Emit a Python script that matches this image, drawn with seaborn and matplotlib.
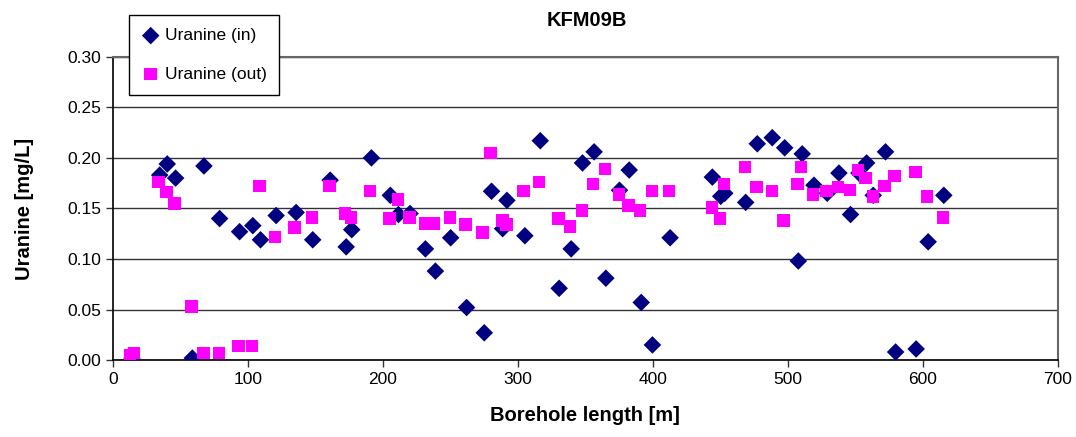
import matplotlib
matplotlib.use("Agg")
import matplotlib.pyplot as plt
import seaborn as sns
import pandas as pd

# Uranine concentration measured along the borehole
length_in = [14.1, 34.6, 40.2, 46.4, 58.8, 67.4, 79.0, 93.8, 103.6, 109.3,
             120.9, 135.7, 148.0, 160.9, 172.8, 176.9, 191.5, 205.5, 211.5, 220.1,
             231.5, 238.9, 250.2, 262.0, 275.1, 280.5, 288.7, 291.9, 305.2, 316.6,
             330.6, 339.5, 347.9, 356.5, 365.2, 375.3, 382.5, 391.4, 399.7, 412.8,
             444.1, 450.3, 453.3, 468.8, 477.4, 488.5, 497.7, 507.8, 510.7, 519.4,
             529.2, 537.9, 546.5, 552.7, 558.4, 563.3, 572.4, 579.9, 595.1, 604.0,
             615.6]
uranine_in = [0.002, 0.183, 0.194, 0.180, 0.002, 0.192, 0.140, 0.127, 0.133, 0.119,
              0.143, 0.146, 0.119, 0.178, 0.112, 0.129, 0.200, 0.163, 0.144, 0.145,
              0.110, 0.088, 0.121, 0.052, 0.027, 0.167, 0.130, 0.158, 0.123, 0.217,
              0.071, 0.110, 0.195, 0.206, 0.081, 0.168, 0.188, 0.057, 0.015, 0.121,
              0.181, 0.162, 0.165, 0.156, 0.214, 0.220, 0.210, 0.098, 0.204, 0.173,
              0.165, 0.185, 0.144, 0.185, 0.195, 0.163, 0.206, 0.008, 0.011, 0.117,
              0.163]

length_out = [12.4, 15.5, 33.8, 39.5, 45.7, 58.3, 67.1, 78.5, 93.0, 102.9,
              108.6, 120.2, 134.5, 147.3, 160.4, 172.0, 176.4, 190.5, 204.8, 211.0,
              219.6, 231.2, 237.4, 249.7, 261.1, 273.9, 279.6, 288.7, 291.6, 304.2,
              315.8, 330.1, 338.8, 347.4, 355.8, 364.7, 375.1, 381.9, 390.6, 399.3,
              412.0, 443.7, 449.6, 452.8, 468.3, 476.9, 488.5, 496.7, 507.1, 510.0,
              518.6, 528.8, 537.4, 546.0, 552.0, 557.6, 563.0, 571.6, 579.1, 594.7,
              603.3, 614.9]
uranine_out = [0.005, 0.007, 0.176, 0.166, 0.155, 0.053, 0.007, 0.007, 0.014, 0.014,
               0.172, 0.122, 0.131, 0.141, 0.172, 0.145, 0.141, 0.167, 0.140, 0.159,
               0.141, 0.135, 0.135, 0.141, 0.134, 0.126, 0.205, 0.138, 0.134, 0.167,
               0.176, 0.140, 0.132, 0.148, 0.174, 0.189, 0.164, 0.153, 0.148, 0.167,
               0.167, 0.151, 0.140, 0.174, 0.191, 0.171, 0.167, 0.138, 0.174, 0.191,
               0.164, 0.167, 0.171, 0.168, 0.188, 0.180, 0.162, 0.172, 0.182, 0.186,
               0.162, 0.141]

df_in = pd.DataFrame({"length": length_in, "uranine": uranine_in})
df_out = pd.DataFrame({"length": length_out, "uranine": uranine_out})

sns.set_style("white")
plt.rcParams["font.family"] = ["Liberation Sans", "DejaVu Sans"]
plt.rcParams["text.color"] = "black"
plt.rcParams["axes.labelcolor"] = "black"
plt.rcParams["xtick.color"] = "black"
plt.rcParams["ytick.color"] = "black"

fig = plt.figure(figsize=(10.76, 4.37), dpi=100)
ax = fig.add_axes([0.105, 0.176, 0.878, 0.694])

sns.scatterplot(x="length", y="uranine", data=df_in, marker="D", s=80,
                color="#000080", edgecolor="none", label="Uranine (in)", ax=ax, zorder=3)
sns.scatterplot(x="length", y="uranine", data=df_out, marker="s", s=80,
                color="#FF00FF", edgecolor="none", label="Uranine (out)", ax=ax, zorder=4)

ax.set_xlim(0, 700)
ax.set_ylim(0, 0.30)
ax.set_xticks(range(0, 701, 100))
ax.set_yticks([0, 0.05, 0.10, 0.15, 0.20, 0.25, 0.30])
ax.set_yticklabels([f"{v:.2f}" for v in ax.get_yticks()])
ax.yaxis.grid(True, color="#333333", linewidth=1)
ax.xaxis.grid(False)
ax.tick_params(axis="both", labelsize=12.5, direction="out", length=5,
               width=1, color="#333333", left=True, bottom=True)
for side in ["left", "bottom"]:
    ax.spines[side].set_color("black")
    ax.spines[side].set_linewidth(1.2)
for side in ["top", "right"]:
    ax.spines[side].set_color("#666666")
    ax.spines[side].set_linewidth(1.5)

ax.set_xlabel("Borehole length [m]", fontsize=14.5, fontweight="bold", labelpad=14)
ax.set_ylabel("Uranine [mg/L]", fontsize=14.5, fontweight="bold", labelpad=24)
fig.text(0.545, 0.952, "KFM09B", fontsize=14.5, fontweight="bold",
         ha="center", va="center")

leg = ax.legend(loc="upper left", bbox_to_anchor=(129 / 1076, 1 - 15 / 437),
                bbox_transform=fig.transFigure, borderaxespad=0, fontsize=12.5,
                frameon=True, fancybox=False, framealpha=1, edgecolor="black",
                handletextpad=0.3, handlelength=1.0, labelspacing=1.35,
                borderpad=0.75)
leg.get_frame().set_linewidth(1)

fig.savefig("out.png", dpi=100)
